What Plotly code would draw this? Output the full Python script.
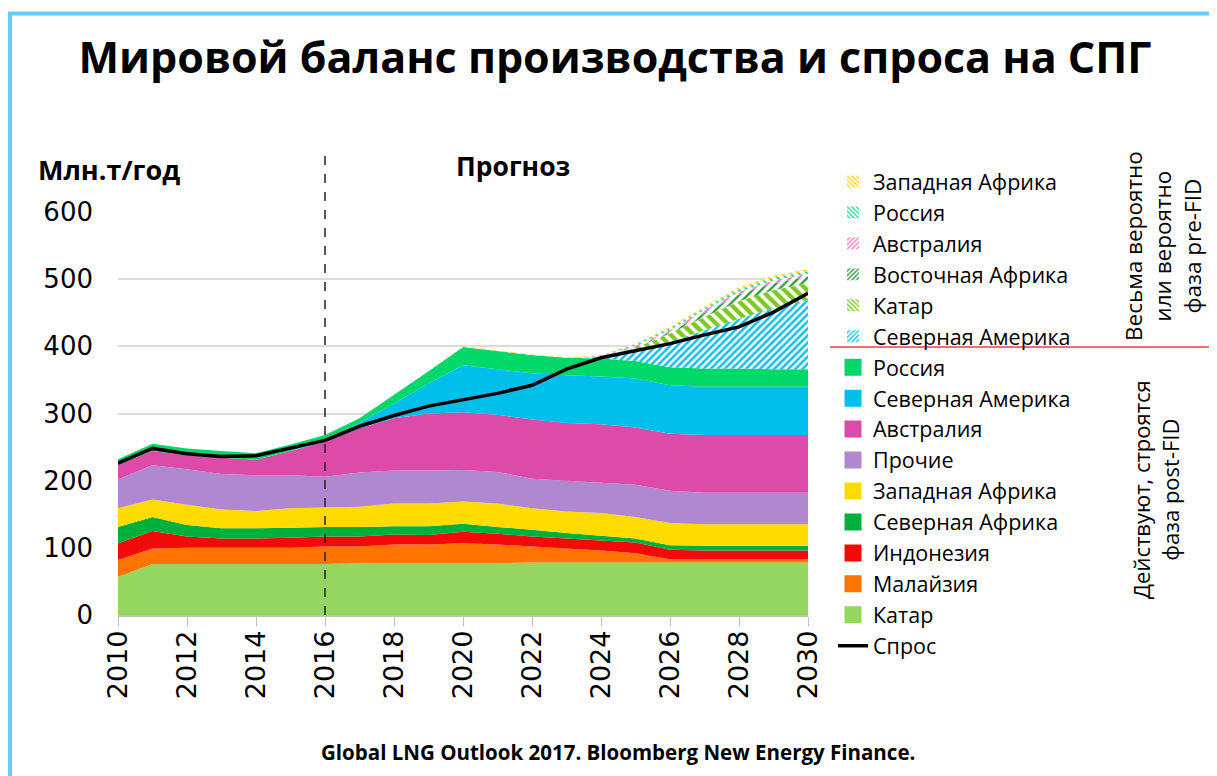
import plotly.graph_objects as go

years = list(range(2010, 2031))

# Operating / under construction (post-FID), Mt/yr
qatar      = [57, 76, 76, 76, 76, 76, 76, 77, 77, 77, 77, 77, 78, 78, 78, 78, 78, 78, 78, 78, 78]
malaysia   = [25, 23, 24, 24, 24, 24, 26, 25, 28, 28, 30, 28, 24, 21, 18, 14, 5, 5, 5, 5, 5]
indonesia  = [25, 26, 17, 14, 14, 15, 15, 15, 15, 14, 17, 16, 15, 15, 15, 16, 14, 13, 13, 13, 13]
n_africa   = [24, 21, 17, 15, 15, 15, 14, 14, 12, 13, 12, 10, 10, 8, 7, 6, 7, 7, 7, 7, 7]
w_africa   = [28, 26, 30, 28, 26, 29, 29, 30, 34, 34, 33, 35, 32, 32, 34, 32, 33, 32, 32, 32, 32]
others     = [43, 51, 53, 53, 53, 49, 46, 51, 49, 49, 47, 47, 44, 46, 45, 48, 48, 47, 47, 47, 47]
australia  = [22, 21, 21, 24, 23, 36, 52, 66, 78, 85, 86, 85, 88, 86, 87, 85, 85, 86, 86, 86, 86]
n_america  = [0, 0, 0, 0, 0, 0, 3, 8, 22, 45, 70, 68, 69, 71, 71, 73, 72, 72, 72, 72, 72]
russia     = [8, 11, 10, 10, 10, 10, 7, 7, 13, 18, 27, 27, 27, 26, 27, 26, 27, 27, 27, 26, 26]

# Highly probable / probable (pre-FID), Mt/yr
n_america_pre = [0]*14 + [2, 17, 38, 57, 74, 91, 103]
qatar_pre     = [0]*14 + [0, 3, 12, 20, 26, 27, 25]
e_africa_pre  = [0]*14 + [0, 1, 2, 6, 10, 10, 10]
australia_pre = [0]*14 + [1, 2, 3, 4, 4, 4, 4]
russia_pre    = [0]*14 + [1, 2, 3, 3, 4, 4, 4]
w_africa_pre  = [0]*10 + [1, 1, 1, 1] + [1, 1, 2, 2, 3, 3, 3]

demand = [226, 248, 240, 236, 237, 248, 260, 281, 297, 311, 320, 330, 342, 366, 383, 393, 404, 417, 429, 451, 479]

xticks = list(range(2010, 2031, 2))

LEG_FONT = "Open Sans"
TICK_FONT = "DejaVu Sans"

fig = go.Figure()

solid = [
    ("Катар", qatar, "#94D65F", 15),
    ("Малайзия", malaysia, "#FF7300", 14),
    ("Индонезия", indonesia, "#F50A0A", 13),
    ("Северная Африка", n_africa, "#00B03C", 12),
    ("Западная Африка", w_africa, "#FFDB00", 11),
    ("Прочие", others, "#B088D0", 10),
    ("Австралия", australia, "#DD4BA8", 9),
    ("Северная Америка", n_america, "#00BFEA", 8),
    ("Россия", russia, "#00D86A", 7),
]
for name, vals, col, rank in solid:
    fig.add_trace(go.Scatter(
        x=years, y=vals, name=name, mode="none", stackgroup="s",
        fillcolor=col, showlegend=False, hoverinfo="skip"))

hatched = [
    ("Северная Америка", n_america_pre, "#12BFEA", "/", 5, 0.5, 6),
    ("Катар", qatar_pre, "#7CC81E", "\\", 8, 0.55, 5),
    ("Восточная Африка", e_africa_pre, "#2E9B3C", "/", 6, 0.4, 4),
    ("Австралия", australia_pre, "#F07CC8", "/", 6, 0.4, 3),
    ("Россия", russia_pre, "#2FD88F", "\\", 6, 0.4, 2),
    ("Западная Африка", w_africa_pre, "#FFD21E", "\\", 6, 0.45, 1),
]
for name, vals, col, shp, sz, sol, rank in hatched:
    fig.add_trace(go.Scatter(
        x=years, y=vals, name=name, mode="none", stackgroup="s",
        fillcolor="white",
        fillpattern=dict(shape=shp, fgcolor=col, bgcolor="white",
                         size=sz, solidity=sol, fillmode="replace"),
        showlegend=False, hoverinfo="skip"))

fig.add_trace(go.Scatter(
    x=years, y=demand, name="Спрос", mode="lines",
    line=dict(color="black", width=3.5), legendrank=16, hoverinfo="skip"))

# legend-only entries (square swatches like the original legend)
for name, vals, col, rank in solid:
    fig.add_trace(go.Bar(
        x=[None], y=[None], name=name, legendrank=rank, hoverinfo="skip",
        marker=dict(color=col, line=dict(color=col, width=5))))
for name, vals, col, shp, sz, sol, rank in hatched:
    fig.add_trace(go.Bar(
        x=[None], y=[None], name=name, legendrank=rank, hoverinfo="skip",
        marker=dict(color="white", line=dict(color="rgba(255,255,255,0)", width=0),
                    pattern=dict(shape=shp, fgcolor=col, bgcolor="white",
                                 size=4, solidity=0.45, fillmode="replace"))))

# page body has an 8px margin: figure is laid out in reference-screen coordinates
OFF = 8
W, H = 1217 - OFF, 776 - OFF
L, T = 118 - OFF, 212 - OFF
R = W - (808 - OFF)
B = H - (615 - OFF)
pw, ph = W - L - R, H - T - B


def px(x):
    return (x - OFF - L) / pw


def py(y):
    return (H - B - (y - OFF)) / ph


fig.update_layout(
    width=W, height=H,
    margin=dict(l=L, r=R, t=T, b=B, autoexpand=False),
    paper_bgcolor="white", plot_bgcolor="white",
    font=dict(family="Liberation Sans, Arial", color="black"),
    title=dict(text="<b>Мировой баланс производства и спроса на СПГ</b>",
               x=(615 - OFF) / W, xanchor="center", y=1 - (58 - OFF) / H, yanchor="middle",
               font=dict(family="Open Sans", size=43, color="black")),
    showlegend=True,
    legend=dict(x=px(833), xanchor="left", y=py(161), yanchor="top",
                traceorder="normal", font=dict(family=LEG_FONT, size=21.5, color="black"),
                bgcolor="rgba(0,0,0,0)", itemwidth=30, tracegroupgap=0, maxheight=1),
    xaxis=dict(range=[2010, 2030], tickvals=xticks, ticktext=[str(t) for t in xticks],
               tickangle=-90, tickfont=dict(size=27, family=TICK_FONT),
               showgrid=False, showline=True, linecolor="#BFBFBF", linewidth=1.5,
               ticks="outside", ticklen=9, tickcolor="#BFBFBF", zeroline=False,
               ticklabelstandoff=-6),
    yaxis=dict(range=[0, 600], tickvals=[0, 100, 200, 300, 400, 500, 600],
               tickfont=dict(size=26, family=TICK_FONT),
               showgrid=True, gridcolor="#DCDCDC", gridwidth=1.5,
               zeroline=False, showline=False, ticks="", ticklabelstandoff=24),
)

shapes = [
    # dashed forecast divider
    dict(type="line", xref="x", yref="paper", x0=2016, x1=2016, y0=0, y1=py(152),
         line=dict(color="#222222", width=1.5, dash="dash")),
    # red separator in legend
    dict(type="line", xref="paper", yref="paper", x0=px(830), x1=px(1217),
         y0=py(347), y1=py(347), line=dict(color="rgba(235,60,80,0.75)", width=2)),
    # light blue frame (top & left)
    dict(type="line", xref="paper", yref="paper", x0=px(8), x1=px(1217),
         y0=py(13.5), y1=py(13.5), line=dict(color="#64CCF8", width=4)),
    dict(type="line", xref="paper", yref="paper", x0=px(10), x1=px(10),
         y0=py(12), y1=py(776), line=dict(color="#64CCF8", width=4)),
]
fig.update_layout(shapes=shapes)

annotations = [
    dict(text="<b>Млн.т/год</b>", xref="paper", yref="paper", x=px(36), y=py(170),
         xanchor="left", yanchor="middle", showarrow=False,
         font=dict(family="Open Sans", size=27, color="black")),
    dict(text="<b>Прогноз</b>", xref="paper", yref="paper", x=px(513), y=py(166),
         xanchor="center", yanchor="middle", showarrow=False,
         font=dict(family="Open Sans", size=26.5, color="black")),
    dict(text="Весьма вероятно<br>или вероятно<br>фаза pre-FID", xref="paper", yref="paper",
         x=px(1163), y=py(246), xanchor="center", yanchor="middle", showarrow=False,
         textangle=-90, font=dict(family=LEG_FONT, size=22.5, color="black")),
    dict(text="Действуют, строятся<br>фаза post-FID", xref="paper", yref="paper",
         x=px(1155), y=py(490), xanchor="center", yanchor="middle", showarrow=False,
         textangle=-90, font=dict(family=LEG_FONT, size=22, color="black")),
    dict(text="<b>Global LNG Outlook 2017. Bloomberg New Energy Finance.</b>",
         xref="paper", yref="paper", x=px(618), y=py(752), xanchor="center",
         yanchor="middle", showarrow=False,
         font=dict(family="Open Sans", size=20.5, color="black")),
]
fig.update_layout(annotations=annotations)

fig.write_html("out.html")
